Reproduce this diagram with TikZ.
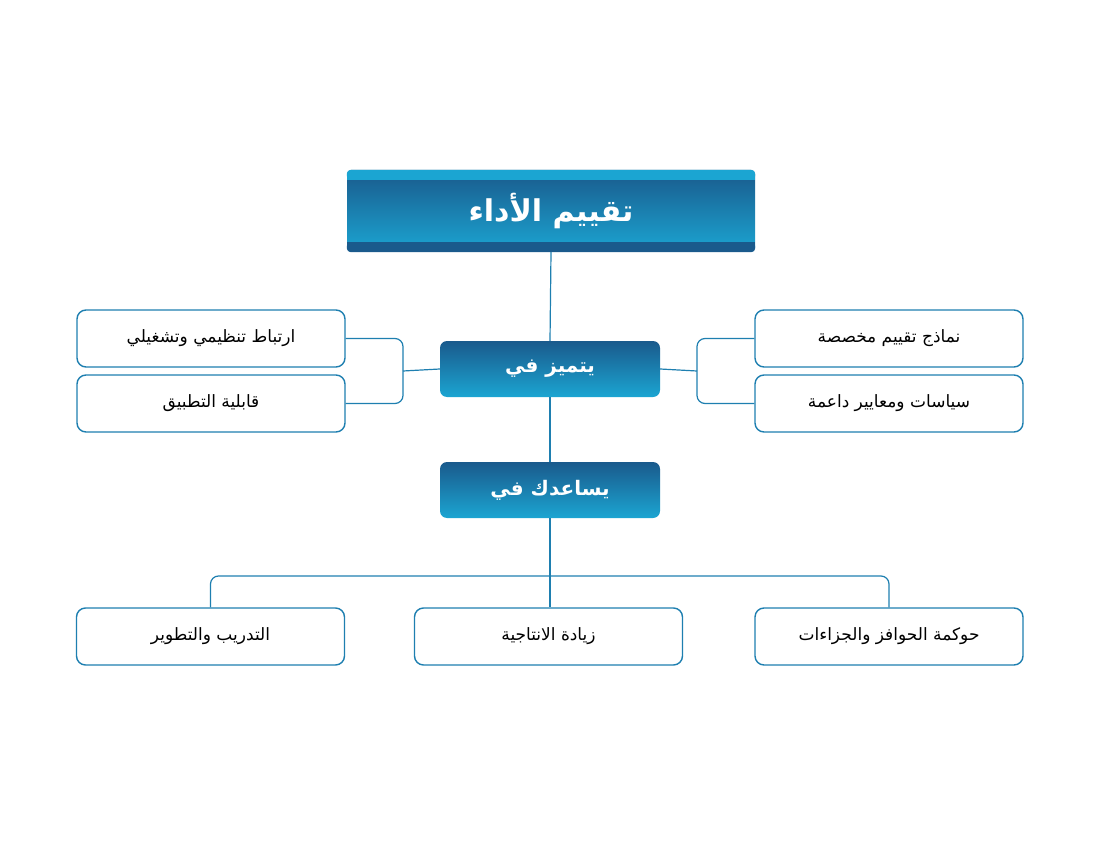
\documentclass[tikz,border=0pt]{standalone}
\usepackage{fontspec}
\newfontfamily\arabicfont[Script=Arabic]{DejaVu Sans}
\TeXXeTstate=1
\definecolor{darkblue}{HTML}{1A5A8C}
\definecolor{cyanblue}{HTML}{1BA5D2}
\definecolor{linecol}{HTML}{1E7FB0}
\tikzset{
  head/.style={rectangle,rounded corners=4pt,minimum width=408pt,minimum height=82pt,
    top color=darkblue,bottom color=cyanblue},
  headtext/.style={text=white,font=\arabicfont\bfseries\fontsize{30}{34}\selectfont},
  mid/.style={rectangle,rounded corners=7pt,minimum width=220pt,minimum height=56pt,
    top color=darkblue,bottom color=cyanblue,text=white,font=\arabicfont\bfseries\fontsize{20}{24}\selectfont},
  leaf/.style={rectangle,rounded corners=9pt,draw=linecol,line width=1.4pt,fill=white,
    minimum width=268pt,minimum height=57pt,font=\arabicfont\fontsize{17}{20}\selectfont},
  conn/.style={draw=linecol,line width=1.2pt,rounded corners=8pt}
}
\begin{document}
\begin{tikzpicture}[x=1pt,y=-1pt]
\useasboundingbox (0,0) rectangle (1100,850);
% title and the two middle boxes
\node[head] (title) at (551,211) {};
\fill[cyanblue,rounded corners=4pt] (title.north west) rectangle ([yshift=-10pt]title.north east);
\fill[cyanblue] ([yshift=-5pt]title.north west) rectangle ([yshift=-10pt]title.north east);
\fill[darkblue,rounded corners=4pt] ([yshift=10pt]title.south west) rectangle (title.south east);
\fill[darkblue] ([yshift=10pt]title.south west) rectangle ([yshift=5pt]title.south east);
\node[headtext] (titletext) at (title.center) {\beginR تقييم الأداء\endR};
\node[mid] (excel) at (550,369) {\beginR يتميز في\endR};
\node[mid] (helps) at (550,490) {\beginR يساعدك في\endR};
% side boxes
\node[leaf] (link)  at (211,338.5) {\beginR ارتباط تنظيمي وتشغيلي\endR};
\node[leaf] (apply) at (211,403.5) {\beginR قابلية التطبيق\endR};
\node[leaf] (model) at (889,338.5) {\beginR نماذج تقييم مخصصة\endR};
\node[leaf] (policy) at (889,403.5) {\beginR سياسات ومعايير داعمة\endR};
% bottom boxes
\node[leaf] (train) at (210.5,636.5) {\beginR التدريب والتطوير\endR};
\node[leaf] (prod)  at (548.5,636.5) {\beginR زيادة الانتاجية\endR};
\node[leaf] (rew)   at (889,636.5) {\beginR حوكمة الحوافز والجزاءات\endR};
% connectors
\coordinate (lbr) at (403,371);
\coordinate (rbr) at (697,371);
\coordinate (bus) at (550,576);
\draw[conn] (title.south) -- (excel.north);
\draw[conn] (excel.south) -- (helps.north);
\draw[conn] (excel.west) -- (lbr);
\draw[conn] (link.east) -| (lbr) |- (apply.east);
\draw[conn] (excel.east) -- (rbr);
\draw[conn] (model.west) -| (rbr) |- (policy.west);
\draw[conn] (helps.south) -- (bus);
\draw[conn] (train.north) |- (bus) -| (rew.north);
\draw[conn] (bus) -- (bus |- prod.north);
\end{tikzpicture}
\end{document}
